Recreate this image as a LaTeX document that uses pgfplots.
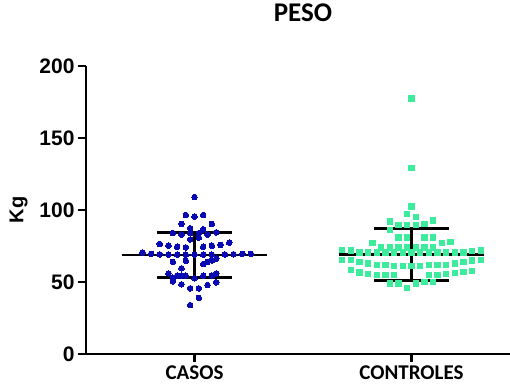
\documentclass[border=0pt]{standalone}
\usepackage{fontspec}
\setmainfont{Liberation Sans}
\newfontfamily\carlito{Carlito}
\usepackage{pgfplots}
\usepackage{pgfplotstable}
\pgfplotsset{compat=1.18}
\definecolor{casos}{RGB}{10,10,180}
\definecolor{controles}{RGB}{60,235,155}

\pgfplotstableread{
x y
0 109
-0.04 96.5
0 95.3
0.04 96.5
-0.06 90.3
0.08 90.3
-0.02 87.3
0.04 86.6
-0.10 84
-0.06 83
-0.02 84
0.02 84
0.06 83
0.10 84.5
-0.02 79.6
0.02 80.8
-0.16 76.4
-0.12 75.2
-0.08 74.5
-0.04 74
0.04 74.5
0.08 75.2
0.12 75.8
0.16 77.3
-0.24 70.5
-0.20 69.5
-0.16 69.2
-0.12 69
-0.08 69
-0.04 69
0 69
0.04 69
0.08 69
0.14 69.2
0.18 69.3
0.22 69.5
0.26 69.5
-0.10 64
-0.04 64.8
0.04 62.5
0.06 64
0.08 65
0.10 66.2
-0.06 59.5
-0.12 56
-0.10 53
-0.08 54.4
-0.06 54.4
-0.04 54.4
0 52.5
0.04 54.4
0.08 54.4
0.10 56
-0.10 50.5
-0.06 48.4
-0.02 45.6
0.02 45.6
0.06 47.9
0.10 49.8
0.02 39
-0.02 34
}\casos

\pgfplotstableread{
x y
1 177.5
1 129
1 102.3
0.98 97.2
1.02 95
0.90 92
1.10 92.6
0.94 89.6
0.98 89.6
1.02 89.6
1.06 90.3
0.90 86
0.94 81
0.98 81
1.06 81
1.10 81
0.82 76.9
1.14 76.9
1.18 77.6
0.86 74
0.90 74
0.94 74
0.98 74
1.02 74
1.06 74
1.10 74
0.68 72.2
0.72 71.8
0.76 70.5
0.80 70.5
0.84 70.5
0.88 70.5
0.92 70.5
0.96 70.5
1.00 70.5
1.04 70.5
1.08 70.5
1.12 70.5
1.16 70.5
1.20 70.5
1.24 70.5
1.28 71.5
1.32 72
0.68 65.3
0.72 65.3
0.76 64.1
0.80 62.9
0.84 61.8
0.88 61.8
0.92 61.1
0.96 61.1
1.00 61
1.04 61.1
1.08 61.8
1.12 61.8
1.16 61.8
1.20 62.9
1.24 64.1
1.28 64.8
1.32 65.3
0.72 58.5
0.76 56.5
0.80 55.6
0.84 54.9
0.88 54.9
0.92 54.9
1.08 54.9
1.12 55
1.16 55.6
1.20 56.2
1.24 56.8
1.28 57.8
0.90 49
0.94 49
1.02 49
1.06 49.8
1.10 49.8
0.98 46
}\controles

\begin{document}
\begin{tikzpicture}
\begin{axis}[
  scale only axis, width=434pt, height=288pt,
  xmin=-0.5, xmax=1.5, ymin=0, ymax=200,
  axis lines*=left,
  axis line style={line width=2.5pt},
  every tick/.style={black, line width=2.5pt},
  tick align=outside, major tick length=8pt,
  ytick={0,50,100,150,200},
  xtick={0,1}, xticklabels={CASOS,CONTROLES},
  yticklabel style={font=\bfseries\fontsize{21}{21}\selectfont, /pgf/number format/assume math mode=true},
  xticklabel style={font=\carlito\bfseries\fontsize{21}{21}\selectfont},
  title={PESO},
  title style={font=\carlito\bfseries\fontsize{27}{27}\selectfont, at={(axis description cs:0.5,1.132)}, anchor=base},
  ylabel={Kg},
  ylabel style={font=\bfseries\fontsize{20}{20}\selectfont, at={(axis description cs:-0.1555,0.5)}, anchor=center},
]
\coordinate (O) at (rel axis cs:0,0);
\addplot[only marks, mark=*, mark size=2.8pt, mark options={draw=casos, fill=casos, line width=0pt}] table[x=x,y=y] {\casos};
\addplot[only marks, mark=square*, mark size=2.7pt, mark options={draw=controles, fill=controles, line width=0pt}] table[x=x,y=y] {\controles};
% CASOS mean and SD
\addplot[black, line width=2.5pt] coordinates {(-0.332,68.9) (0.332,68.9)};
\addplot[black, line width=3pt] coordinates {(-0.173,84.6) (0.173,84.6)};
\addplot[black, line width=3pt] coordinates {(-0.173,53.4) (0.173,53.4)};
\addplot[black, line width=3pt] coordinates {(0,53.4) (0,84.6)};
% CONTROLES mean and SD
\addplot[black, line width=2.5pt] coordinates {(0.668,69.1) (1.332,69.1)};
\addplot[black, line width=3pt] coordinates {(0.827,87.2) (1.173,87.2)};
\addplot[black, line width=3pt] coordinates {(0.827,50.8) (1.173,50.8)};
\addplot[black, line width=3pt] coordinates {(1,50.8) (1,87.2)};
\end{axis}
\pgfresetboundingbox
\path[use as bounding box] ([shift={(-86pt,-32pt)}]O) rectangle ([shift={(424pt,354pt)}]O);
\end{tikzpicture}
\end{document}
